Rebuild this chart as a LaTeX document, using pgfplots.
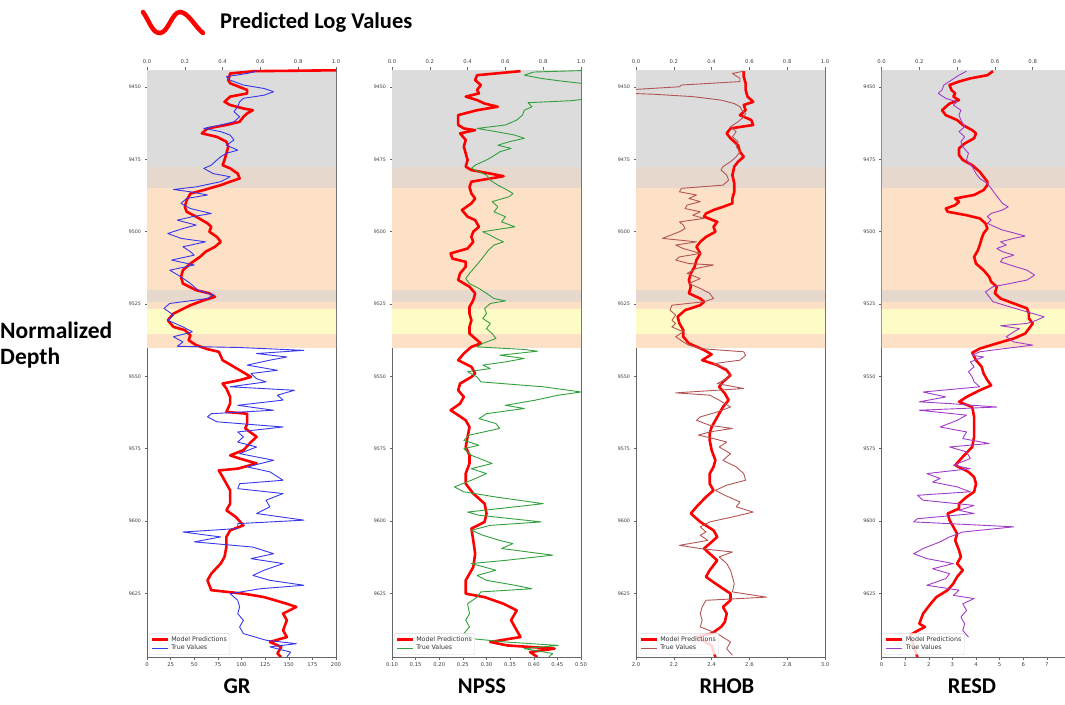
\documentclass[border=0pt]{standalone}
\usepackage{fontspec}
\setmainfont{Carlito}
\newfontfamily\mplfont{DejaVu Sans}
\usepackage{pgfplots}
\pgfplotsset{compat=1.18}

\definecolor{bandgray}{HTML}{DCDCDC}
\definecolor{bandmix}{HTML}{E7D8CE}
\definecolor{bandorange}{HTML}{FDE1C7}
\definecolor{bandyellow}{HTML}{FEFCC6}
\definecolor{predred}{RGB}{255,0,0}
\definecolor{grblue}{RGB}{55,55,235}
\definecolor{npgreen}{RGB}{50,160,60}
\definecolor{rhobrown}{RGB}{180,85,85}
\definecolor{respurple}{RGB}{160,60,200}

\newcommand{\ticks}{\mplfont\fontsize{5.3}{6}\selectfont}
\newcommand{\bands}{%
  \fill[bandgray]   (axis cs:-1,9444.1) rectangle (axis cs:2,9477.7);
  \fill[bandmix]    (axis cs:-1,9477.7) rectangle (axis cs:2,9484.9);
  \fill[bandorange] (axis cs:-1,9484.9) rectangle (axis cs:2,9520.2);
  \fill[bandmix]    (axis cs:-1,9520.2) rectangle (axis cs:2,9524.4);
  \fill[bandorange] (axis cs:-1,9524.4) rectangle (axis cs:2,9526.8);
  \fill[bandyellow] (axis cs:-1,9526.8) rectangle (axis cs:2,9535.5);
  \fill[bandorange] (axis cs:-1,9535.5) rectangle (axis cs:2,9540.3);
}

\pgfplotsset{
  track/.style={
    scale only axis, width=189pt, height=587pt, anchor=south west,
    xmin=0, xmax=1, ymin=9444.1, ymax=9647, y dir=reverse,
    xtick={0,0.2,0.4,0.6,0.8,1}, xtick pos=right, xticklabel pos=right,
    ytick={9450,9475,9500,9525,9550,9575,9600,9625}, ytick pos=left,
    tick align=outside, major tick length=2.5pt,
    /pgf/number format/assume math mode=true,
    xticklabel style={/pgf/number format/fixed, /pgf/number format/fixed zerofill,
      /pgf/number format/precision=1},
    yticklabel style={/pgf/number format/set thousands separator={},
      font=\mplfont\fontsize{4.8}{5.5}\selectfont},
    tick label style={font=\ticks, text=black!75},
    axis line style={black!60, line width=0.6pt},
    tick style={black!60, line width=0.5pt},
    legend cell align=left,
    legend image post style={xscale=0.95},
    legend style={at={(0.012,0.004)}, anchor=south west,
      font=\mplfont\fontsize{6.3}{6.8}\selectfont, text=black!80,
      draw=black!15, fill=white, fill opacity=0.85, text opacity=1,
      inner sep=1pt, row sep=-1.5pt, rounded corners=1pt},
  },
  bottomtrack/.style={
    scale only axis, width=189pt, height=587pt, anchor=south west,
    ymin=9444.1, ymax=9647, axis x line*=bottom, hide y axis,
    tick align=outside, major tick length=2.5pt,
    /pgf/number format/assume math mode=true,
    tick label style={font=\ticks, text=black!75},
    axis line style={black!60, line width=0.6pt},
    tick style={black!60, line width=0.5pt},
  },
  pred/.style={predred, line width=2.6pt, line join=round},
  obs/.style={#1, line width=0.9pt, line join=round},
}

\begin{document}
\begin{tikzpicture}
% header
\draw[predred, line width=4.5pt, line cap=round]
  (143pt,692pt) .. controls (150pt,682pt) and (152pt,671pt) .. (160pt,671pt)
  .. controls (168pt,671pt) and (172pt,692pt) .. (180pt,692pt)
  .. controls (188pt,692pt) and (196pt,676pt) .. (203pt,671pt);
\node[anchor=base west, inner sep=0, font=\bfseries\fontsize{22.5}{26}\selectfont] at (220pt,675pt) {Predicted Log Values};
\node[anchor=base west, inner sep=0, font=\bfseries\fontsize{23.5}{26}\selectfont] at (0pt,365pt) {Normalized};
\node[anchor=base west, inner sep=0, font=\bfseries\fontsize{23.5}{26}\selectfont] at (0pt,339pt) {Depth};

% ---------------- GR ----------------
\begin{axis}[track, at={(147pt,47pt)}]
\bands
\addplot[pred] coordinates {
(1.00,9444.2) (0.57,9444.5) (0.44,9445.3) (0.43,9447.6) (0.44,9448.7) (0.53,9451.0)
(0.53,9452.2) (0.44,9453.3) (0.41,9455.1) (0.44,9456.2) (0.51,9457.4) (0.56,9458.0)
(0.53,9459.1) (0.51,9460.3) (0.49,9462.0) (0.42,9463.1) (0.32,9464.3) (0.29,9466.0)
(0.37,9467.2) (0.42,9468.9) (0.43,9470.6) (0.42,9472.9) (0.41,9475.2) (0.40,9477.0)
(0.44,9478.1) (0.48,9479.9) (0.49,9481.6) (0.44,9482.7) (0.39,9483.9) (0.30,9485.6)
(0.23,9486.8) (0.21,9489.1) (0.20,9491.4) (0.21,9493.1) (0.26,9494.8) (0.32,9497.1)
(0.34,9498.3) (0.33,9500.0) (0.37,9501.8) (0.39,9503.5) (0.36,9505.2) (0.31,9506.9)
(0.28,9508.7) (0.23,9511.0) (0.19,9513.3) (0.18,9515.6) (0.19,9517.9) (0.26,9520.2)
(0.33,9521.3) (0.36,9522.5) (0.30,9523.7) (0.23,9525.4) (0.14,9528.3) (0.11,9530.6)
(0.14,9532.9) (0.20,9534.0) (0.23,9535.8) (0.22,9537.5) (0.26,9539.2) (0.32,9540.6)
(0.38,9541.5) (0.40,9544.4) (0.46,9546.7) (0.52,9549.0) (0.55,9550.2) (0.49,9551.3)
(0.40,9552.5) (0.42,9554.2) (0.44,9557.1) (0.44,9559.4) (0.42,9562.3) (0.53,9562.9)
(0.53,9566.3) (0.52,9568.0) (0.58,9570.9) (0.55,9572.7) (0.51,9575.5) (0.44,9577.3)
(0.49,9578.4) (0.58,9580.1) (0.48,9581.9) (0.38,9582.5) (0.41,9585.9) (0.44,9589.4)
(0.44,9594.0) (0.42,9596.3) (0.47,9598.6) (0.51,9601.5) (0.44,9603.2) (0.42,9605.5)
(0.42,9609.0) (0.41,9612.4) (0.39,9614.7) (0.34,9618.2) (0.32,9620.5) (0.34,9623.9)
(0.51,9625.1) (0.62,9626.3) (0.74,9628.6) (0.79,9629.7) (0.72,9632.0) (0.74,9634.3)
(0.72,9637.8) (0.74,9640.1) (0.65,9641.8) (0.71,9643.5) (0.69,9645.8) (0.71,9647.0)
};
\addlegendentry{Model Predictions}
\addplot[obs=grblue] coordinates {
(0.58,9444.5) (0.53,9445.3) (0.42,9446.4) (0.44,9447.6) (0.51,9449.3) (0.62,9450.5)
(0.67,9451.6) (0.62,9452.8) (0.51,9453.9) (0.49,9455.1) (0.48,9456.8) (0.46,9458.5)
(0.49,9460.3) (0.46,9462.0) (0.39,9463.1) (0.30,9464.3) (0.39,9465.4) (0.44,9466.6)
(0.46,9468.3) (0.42,9470.1) (0.48,9471.8) (0.42,9472.9) (0.39,9474.1) (0.37,9475.2)
(0.34,9477.0) (0.30,9478.1) (0.35,9479.9) (0.44,9481.0) (0.39,9482.7) (0.26,9484.5)
(0.14,9485.4) (0.23,9486.2) (0.32,9487.3) (0.21,9488.5) (0.18,9490.2) (0.23,9492.0)
(0.34,9493.7) (0.24,9494.8) (0.16,9496.0) (0.26,9497.7) (0.19,9498.9) (0.11,9500.6)
(0.18,9502.3) (0.31,9503.5) (0.19,9505.2) (0.23,9506.9) (0.25,9508.1) (0.13,9509.8)
(0.25,9511.5) (0.12,9513.3) (0.18,9515.6) (0.23,9517.9) (0.27,9520.2) (0.35,9521.9)
(0.32,9523.1) (0.12,9524.8) (0.09,9526.5) (0.14,9528.8) (0.11,9530.6) (0.19,9532.9)
(0.24,9534.6) (0.14,9536.3) (0.19,9538.1) (0.16,9539.6) (0.48,9540.0) (0.83,9541.0)
(0.58,9542.1) (0.74,9543.3) (0.65,9544.4) (0.53,9546.1) (0.69,9547.9) (0.55,9549.0)
(0.58,9550.8) (0.63,9551.9) (0.44,9553.6) (0.78,9554.8) (0.69,9556.5) (0.72,9558.2)
(0.48,9560.0) (0.67,9561.7) (0.34,9562.9) (0.32,9564.0) (0.37,9565.7) (0.72,9567.5)
(0.48,9569.2) (0.51,9570.9) (0.48,9572.7) (0.58,9574.4) (0.49,9576.7) (0.67,9579.0)
(0.53,9581.3) (0.65,9583.0) (0.72,9585.9) (0.49,9587.1) (0.48,9588.8) (0.72,9590.5)
(0.63,9592.8) (0.65,9595.1) (0.58,9597.4) (0.83,9599.7) (0.48,9600.9) (0.48,9602.6)
(0.19,9603.8) (0.39,9605.5) (0.25,9607.2) (0.56,9609.0) (0.67,9611.3) (0.55,9613.0)
(0.72,9614.7) (0.62,9617.0) (0.56,9618.8) (0.65,9620.5) (0.83,9622.2) (0.60,9623.4)
(0.44,9625.1) (0.48,9627.4) (0.49,9629.7) (0.48,9632.0) (0.51,9634.3) (0.49,9636.6)
(0.51,9638.9) (0.63,9641.2) (0.79,9642.4) (0.65,9643.5) (0.76,9645.3) (0.74,9647.0)
};
\addlegendentry{True Values}
\end{axis}
\begin{axis}[bottomtrack, at={(147pt,47pt)}, xmin=0, xmax=200,
  xtick={0,25,50,75,100,125,150,175,200}]
\end{axis}

% ---------------- NPSS ----------------
\begin{axis}[track, at={(392pt,47pt)}]
\bands
\addplot[pred] coordinates {
(0.68,9444.5) (0.45,9445.9) (0.44,9447.6) (0.47,9449.3) (0.45,9451.0) (0.46,9452.2)
(0.39,9453.3) (0.45,9454.5) (0.49,9455.7) (0.56,9456.8) (0.45,9458.0) (0.35,9459.7)
(0.35,9461.4) (0.35,9463.1) (0.38,9464.3) (0.44,9464.9) (0.36,9466.0) (0.39,9468.3)
(0.38,9470.6) (0.39,9472.9) (0.40,9475.2) (0.39,9477.5) (0.42,9478.7) (0.52,9479.9)
(0.59,9480.8) (0.52,9481.6) (0.42,9482.7) (0.41,9484.5) (0.42,9486.8) (0.44,9488.5)
(0.42,9490.2) (0.37,9492.5) (0.40,9494.8) (0.44,9496.0) (0.46,9498.3) (0.43,9500.0)
(0.42,9501.8) (0.43,9503.5) (0.40,9505.8) (0.31,9507.5) (0.32,9509.3) (0.39,9510.4)
(0.39,9512.1) (0.36,9514.4) (0.35,9516.7) (0.41,9519.0) (0.44,9521.3) (0.43,9523.7)
(0.41,9526.0) (0.41,9528.3) (0.42,9530.6) (0.41,9532.9) (0.41,9535.2) (0.44,9536.9)
(0.47,9538.6) (0.42,9539.8) (0.38,9542.1) (0.35,9544.4) (0.42,9546.7) (0.44,9549.0)
(0.42,9550.2) (0.36,9552.5) (0.35,9554.8) (0.38,9557.1) (0.36,9559.4) (0.31,9561.7)
(0.35,9563.4) (0.39,9565.2) (0.41,9567.5) (0.40,9570.9) (0.39,9574.4) (0.41,9577.3)
(0.41,9580.1) (0.39,9583.6) (0.39,9587.1) (0.43,9590.5) (0.49,9594.0) (0.50,9597.4)
(0.49,9600.3) (0.42,9602.6) (0.43,9606.7) (0.44,9611.3) (0.43,9615.9) (0.39,9620.5)
(0.39,9625.1) (0.49,9626.3) (0.59,9628.6) (0.66,9630.9) (0.63,9634.3) (0.66,9637.8)
(0.68,9640.1) (0.52,9641.8) (0.61,9643.0) (0.86,9644.1) (0.73,9645.3) (0.77,9647.0)
};
\addlegendentry{Model Predictions}
\addplot[obs=npgreen] coordinates {
(1.05,9444.2) (0.75,9444.8) (0.70,9445.9) (0.79,9447.0) (0.88,9447.8) (1.00,9448.7)
(1.20,9451.0) (1.05,9453.9) (0.95,9454.7) (0.72,9455.4) (0.74,9456.8) (0.70,9458.0)
(0.69,9459.7) (0.66,9461.4) (0.60,9463.1) (0.45,9464.3) (0.55,9465.4) (0.65,9466.6)
(0.70,9467.7) (0.62,9468.9) (0.56,9470.1) (0.63,9471.2) (0.57,9472.4) (0.53,9474.1)
(0.50,9475.2) (0.44,9477.0) (0.42,9478.1) (0.46,9479.3) (0.50,9480.4) (0.52,9482.2)
(0.56,9483.9) (0.61,9485.6) (0.64,9486.8) (0.62,9487.9) (0.53,9489.6) (0.56,9491.4)
(0.54,9493.1) (0.60,9494.8) (0.58,9496.6) (0.65,9498.3) (0.48,9500.0) (0.52,9501.2)
(0.55,9502.3) (0.59,9503.5) (0.54,9504.6) (0.51,9506.4) (0.49,9508.1) (0.47,9509.8)
(0.44,9512.1) (0.41,9514.4) (0.39,9516.2) (0.41,9517.9) (0.46,9519.6) (0.50,9521.3)
(0.54,9523.1) (0.60,9523.9) (0.52,9524.8) (0.49,9526.5) (0.50,9528.3) (0.48,9530.0)
(0.52,9531.7) (0.50,9533.5) (0.53,9535.2) (0.55,9536.9) (0.48,9538.6) (0.45,9539.8)
(0.70,9540.7) (0.77,9541.3) (0.57,9542.7) (0.70,9543.8) (0.60,9545.0) (0.48,9546.1)
(0.52,9547.3) (0.40,9548.4) (0.45,9550.2) (0.47,9551.9) (0.80,9553.6) (1.00,9555.4)
(0.88,9556.5) (0.76,9558.2) (0.60,9560.0) (0.70,9561.1) (0.50,9562.9) (0.46,9564.6)
(0.55,9566.3) (0.57,9568.0) (0.41,9570.3) (0.38,9572.1) (0.46,9573.8) (0.38,9575.0)
(0.42,9577.3) (0.53,9580.1) (0.42,9581.9) (0.50,9583.6) (0.42,9585.9) (0.33,9588.2)
(0.38,9589.9) (0.55,9591.7) (0.80,9594.0) (0.65,9595.1) (0.40,9596.9) (0.46,9598.0)
(0.79,9600.3) (0.52,9601.5) (0.42,9603.2) (0.48,9604.9) (0.57,9606.7) (0.64,9607.8)
(0.58,9609.5) (0.85,9611.8) (0.60,9613.6) (0.42,9614.7) (0.55,9617.0) (0.45,9618.8)
(0.50,9620.5) (0.65,9622.2) (0.74,9623.4) (0.47,9624.5) (0.45,9626.3) (0.40,9628.6)
(0.41,9632.0) (0.39,9634.3) (0.41,9636.6) (0.38,9638.9) (0.43,9640.7) (0.60,9641.8)
(0.88,9643.0) (0.70,9644.1) (0.85,9645.8) (0.83,9647.0)
};
\addlegendentry{True Values}
\end{axis}
\begin{axis}[bottomtrack, at={(392pt,47pt)}, xmin=0.1, xmax=0.5,
  xtick={0.10,0.15,0.20,0.25,0.30,0.35,0.40,0.45,0.50},
  xticklabel style={/pgf/number format/fixed, /pgf/number format/fixed zerofill,
    /pgf/number format/precision=2}]
\end{axis}

% ---------------- RHOB ----------------
\begin{axis}[track, at={(636pt,47pt)}]
\bands
\addplot[pred] coordinates {
(0.57,9444.5) (0.57,9446.4) (0.58,9448.7) (0.58,9451.0) (0.59,9453.3) (0.62,9455.1)
(0.57,9456.2) (0.58,9458.0) (0.55,9459.7) (0.61,9461.4) (0.62,9463.1) (0.50,9464.3)
(0.48,9466.0) (0.50,9467.7) (0.54,9470.1) (0.55,9472.4) (0.57,9474.1) (0.54,9475.8)
(0.52,9477.5) (0.51,9480.4) (0.52,9483.3) (0.52,9486.2) (0.51,9488.5) (0.51,9490.2)
(0.46,9491.4) (0.41,9492.5) (0.37,9493.7) (0.36,9494.8) (0.43,9496.6) (0.41,9498.3)
(0.42,9500.0) (0.37,9501.8) (0.34,9503.5) (0.32,9505.2) (0.34,9507.5) (0.32,9509.8)
(0.31,9512.1) (0.29,9514.4) (0.28,9516.7) (0.29,9519.0) (0.28,9521.3) (0.34,9523.1)
(0.36,9524.2) (0.34,9525.4) (0.26,9527.1) (0.22,9529.4) (0.23,9531.7) (0.25,9534.0)
(0.25,9536.3) (0.28,9538.6) (0.36,9540.9) (0.40,9542.4) (0.35,9544.4) (0.43,9546.1)
(0.48,9547.9) (0.50,9549.6) (0.46,9551.9) (0.44,9553.6) (0.47,9555.9) (0.49,9558.2)
(0.46,9560.6) (0.44,9562.9) (0.42,9565.2) (0.40,9567.5) (0.39,9569.8) (0.39,9572.1)
(0.40,9575.5) (0.42,9579.0) (0.41,9581.3) (0.39,9583.6) (0.39,9587.1) (0.41,9589.4)
(0.37,9591.7) (0.32,9595.1) (0.29,9597.4) (0.34,9600.3) (0.41,9603.2) (0.43,9605.5)
(0.39,9607.8) (0.36,9609.5) (0.39,9611.3) (0.43,9613.6) (0.39,9617.0) (0.37,9619.3)
(0.42,9621.6) (0.50,9625.1) (0.50,9627.4) (0.46,9629.7) (0.48,9632.0) (0.47,9634.9)
(0.45,9636.6) (0.40,9638.9) (0.32,9640.1) (0.40,9643.0) (0.42,9647.0)
};
\addlegendentry{Model Predictions}
\addplot[obs=rhobrown] coordinates {
(0.57,9444.5) (0.51,9445.3) (0.55,9447.0) (0.55,9448.1) (0.24,9449.3) (0.23,9449.9)
(0.00,9450.8) (-0.05,9451.4) (-0.02,9452.2) (0.10,9452.5) (0.30,9453.3) (0.45,9454.5)
(0.52,9455.7) (0.55,9456.8) (0.56,9458.0) (0.58,9459.1) (0.57,9460.3) (0.54,9462.0)
(0.50,9463.7) (0.53,9465.4) (0.51,9467.2) (0.54,9468.9) (0.53,9470.6) (0.55,9472.4)
(0.53,9474.1) (0.50,9475.8) (0.46,9477.5) (0.45,9478.7) (0.48,9480.4) (0.49,9482.2)
(0.46,9483.9) (0.24,9485.0) (0.23,9486.2) (0.32,9487.3) (0.28,9488.5) (0.34,9489.6)
(0.27,9490.8) (0.26,9492.0) (0.34,9493.1) (0.30,9494.3) (0.36,9495.4) (0.23,9496.6)
(0.25,9497.7) (0.26,9498.9) (0.23,9500.0) (0.14,9502.3) (0.32,9503.5) (0.21,9504.6)
(0.25,9505.8) (0.34,9507.5) (0.23,9508.7) (0.21,9509.8) (0.28,9511.0) (0.41,9511.5)
(0.32,9512.7) (0.27,9514.4) (0.34,9516.2) (0.28,9517.9) (0.34,9519.6) (0.39,9521.3)
(0.41,9523.1) (0.36,9524.2) (0.19,9525.4) (0.18,9527.1) (0.21,9528.8) (0.19,9530.6)
(0.21,9531.7) (0.19,9532.9) (0.25,9534.6) (0.21,9536.3) (0.25,9538.1) (0.28,9539.2)
(0.34,9540.4) (0.57,9541.5) (0.58,9542.7) (0.55,9544.4) (0.41,9545.6) (0.48,9547.3)
(0.50,9549.0) (0.48,9550.8) (0.43,9552.5) (0.57,9554.2) (0.21,9555.7) (0.39,9556.5)
(0.44,9558.2) (0.50,9560.6) (0.43,9562.3) (0.34,9564.0) (0.32,9565.2) (0.39,9566.9)
(0.51,9568.0) (0.39,9569.2) (0.33,9570.3) (0.41,9571.5) (0.48,9572.7) (0.44,9574.4)
(0.50,9576.7) (0.46,9579.0) (0.53,9581.3) (0.57,9583.6) (0.58,9585.9) (0.48,9587.6)
(0.42,9589.4) (0.47,9591.1) (0.55,9593.4) (0.53,9595.1) (0.62,9596.9) (0.51,9598.6)
(0.39,9600.3) (0.34,9602.0) (0.37,9603.8) (0.34,9604.9) (0.38,9606.7) (0.23,9608.4)
(0.34,9609.5) (0.51,9610.7) (0.44,9612.4) (0.48,9614.7) (0.50,9617.0) (0.51,9619.3)
(0.52,9621.6) (0.51,9624.5) (0.69,9626.3) (0.37,9627.4) (0.35,9629.7) (0.34,9632.0)
(0.35,9634.3) (0.34,9636.6) (0.43,9638.9) (0.50,9641.8) (0.48,9644.1) (0.51,9646.4)
};
\addlegendentry{True Values}
\end{axis}
\begin{axis}[bottomtrack, at={(636pt,47pt)}, xmin=2, xmax=3,
  xtick={2.0,2.2,2.4,2.6,2.8,3.0},
  xticklabel style={/pgf/number format/fixed, /pgf/number format/fixed zerofill,
    /pgf/number format/precision=1}]
\end{axis}

% ---------------- RESD ----------------
% the right edge of this track falls outside the figure, as in the original
\begin{axis}[track, at={(881.5pt,47pt)}, xtick={0,0.2,0.4,0.6,0.8}]
\bands
\addplot[pred] coordinates {
(0.59,9444.5) (0.56,9445.9) (0.47,9447.0) (0.41,9448.1) (0.36,9449.3) (0.37,9451.0)
(0.39,9452.2) (0.38,9453.3) (0.41,9454.5) (0.36,9455.7) (0.32,9458.0) (0.34,9459.7)
(0.40,9461.4) (0.43,9463.1) (0.48,9464.9) (0.50,9466.0) (0.49,9467.7) (0.44,9469.5)
(0.41,9471.2) (0.41,9473.5) (0.43,9475.2) (0.48,9477.0) (0.52,9479.3) (0.54,9481.0)
(0.56,9482.7) (0.56,9483.9) (0.54,9485.6) (0.49,9487.3) (0.39,9488.5) (0.41,9489.6)
(0.39,9490.8) (0.34,9492.0) (0.35,9493.1) (0.45,9494.3) (0.52,9495.4) (0.55,9497.1)
(0.56,9498.9) (0.54,9500.6) (0.53,9502.3) (0.52,9504.6) (0.51,9506.4) (0.49,9508.7)
(0.50,9511.0) (0.54,9513.3) (0.57,9515.6) (0.58,9517.3) (0.61,9519.0) (0.60,9521.3)
(0.63,9523.1) (0.70,9524.8) (0.77,9526.5) (0.78,9528.3) (0.78,9530.0) (0.80,9531.7)
(0.78,9533.5) (0.76,9535.2) (0.70,9536.9) (0.61,9538.6) (0.52,9540.4) (0.48,9541.8)
(0.50,9544.4) (0.53,9546.7) (0.54,9549.0) (0.56,9551.3) (0.58,9553.1) (0.52,9554.8)
(0.45,9557.1) (0.41,9558.8) (0.48,9560.6) (0.49,9564.0) (0.49,9567.5) (0.49,9570.9)
(0.48,9574.4) (0.43,9577.8) (0.39,9580.7) (0.46,9583.0) (0.49,9584.8) (0.50,9587.1)
(0.49,9589.9) (0.45,9591.7) (0.41,9594.0) (0.41,9595.7) (0.35,9597.4) (0.36,9599.7)
(0.38,9602.0) (0.40,9604.4) (0.39,9606.7) (0.41,9610.1) (0.42,9612.4) (0.40,9614.7)
(0.43,9617.0) (0.40,9619.3) (0.38,9621.6) (0.35,9623.9) (0.29,9626.3) (0.26,9628.6)
(0.22,9632.0) (0.20,9635.5) (0.23,9636.6) (0.18,9638.3) (0.15,9639.5) (0.19,9647.0)
};
\addlegendentry{Model Predictions}
\addplot[obs=respurple] coordinates {
(0.45,9444.5) (0.41,9445.9) (0.37,9447.6) (0.33,9449.3) (0.32,9451.0) (0.30,9452.2)
(0.34,9453.9) (0.40,9455.1) (0.38,9456.2) (0.42,9458.0) (0.41,9459.7) (0.42,9461.4)
(0.44,9463.7) (0.41,9465.4) (0.44,9467.2) (0.42,9468.9) (0.43,9470.6) (0.46,9472.9)
(0.45,9475.2) (0.48,9477.5) (0.50,9479.9) (0.52,9481.6) (0.56,9483.3) (0.58,9485.0)
(0.60,9486.8) (0.62,9488.5) (0.64,9490.2) (0.67,9491.4) (0.64,9492.5) (0.58,9493.7)
(0.56,9494.8) (0.58,9496.0) (0.56,9497.1) (0.60,9498.3) (0.64,9499.4) (0.71,9500.6)
(0.76,9501.5) (0.70,9502.3) (0.63,9503.5) (0.66,9504.6) (0.61,9505.8) (0.64,9506.9)
(0.70,9508.1) (0.64,9509.3) (0.63,9510.4) (0.68,9511.5) (0.77,9513.3) (0.81,9515.0)
(0.77,9516.7) (0.68,9517.9) (0.59,9519.0) (0.55,9520.8) (0.57,9522.5) (0.59,9524.2)
(0.68,9526.0) (0.77,9527.7) (0.86,9529.4) (0.82,9530.6) (0.77,9531.7) (0.63,9532.5)
(0.73,9533.5) (0.70,9534.6) (0.66,9536.3) (0.70,9538.1) (0.80,9539.2) (0.70,9540.0)
(0.52,9541.5) (0.48,9542.7) (0.54,9543.3) (0.47,9545.0) (0.49,9546.7) (0.46,9548.4)
(0.48,9550.2) (0.49,9551.9) (0.52,9553.6) (0.22,9555.4) (0.34,9557.1) (0.20,9558.8)
(0.36,9559.4) (0.61,9560.6) (0.20,9561.7) (0.45,9563.4) (0.40,9565.2) (0.31,9567.5)
(0.45,9569.2) (0.43,9571.5) (0.57,9573.2) (0.36,9574.4) (0.45,9576.1) (0.47,9578.4)
(0.38,9580.7) (0.47,9581.9) (0.24,9583.6) (0.31,9585.3) (0.27,9586.5) (0.40,9588.2)
(0.47,9589.9) (0.19,9591.1) (0.22,9592.8) (0.49,9594.6) (0.41,9596.3) (0.49,9597.4)
(0.19,9599.2) (0.17,9600.3) (0.70,9602.0) (0.43,9603.8) (0.36,9605.5) (0.31,9607.2)
(0.22,9609.5) (0.17,9611.3) (0.24,9613.0) (0.38,9614.7) (0.27,9616.5) (0.36,9618.2)
(0.34,9619.9) (0.24,9622.2) (0.41,9623.9) (0.38,9625.7) (0.49,9626.8) (0.43,9628.6)
(0.45,9630.9) (0.42,9633.2) (0.44,9635.5) (0.43,9637.8) (0.46,9640.1)
};
\addlegendentry{True Values}
\end{axis}
\begin{axis}[bottomtrack, at={(881.5pt,47pt)}, xmin=0, xmax=8,
  xtick={0,1,2,3,4,5,6,7}]
\end{axis}

% panel titles
\foreach \x/\t in {237/GR, 482/NPSS, 727/RHOB, 972/RESD}
  \node[anchor=base, inner sep=0, font=\bfseries\fontsize{22.5}{26}\selectfont] at (\x pt,11pt) {\t};

\pgfresetboundingbox
\path[use as bounding box] (0,0) rectangle (1065pt,704pt);
\end{tikzpicture}
\end{document}
